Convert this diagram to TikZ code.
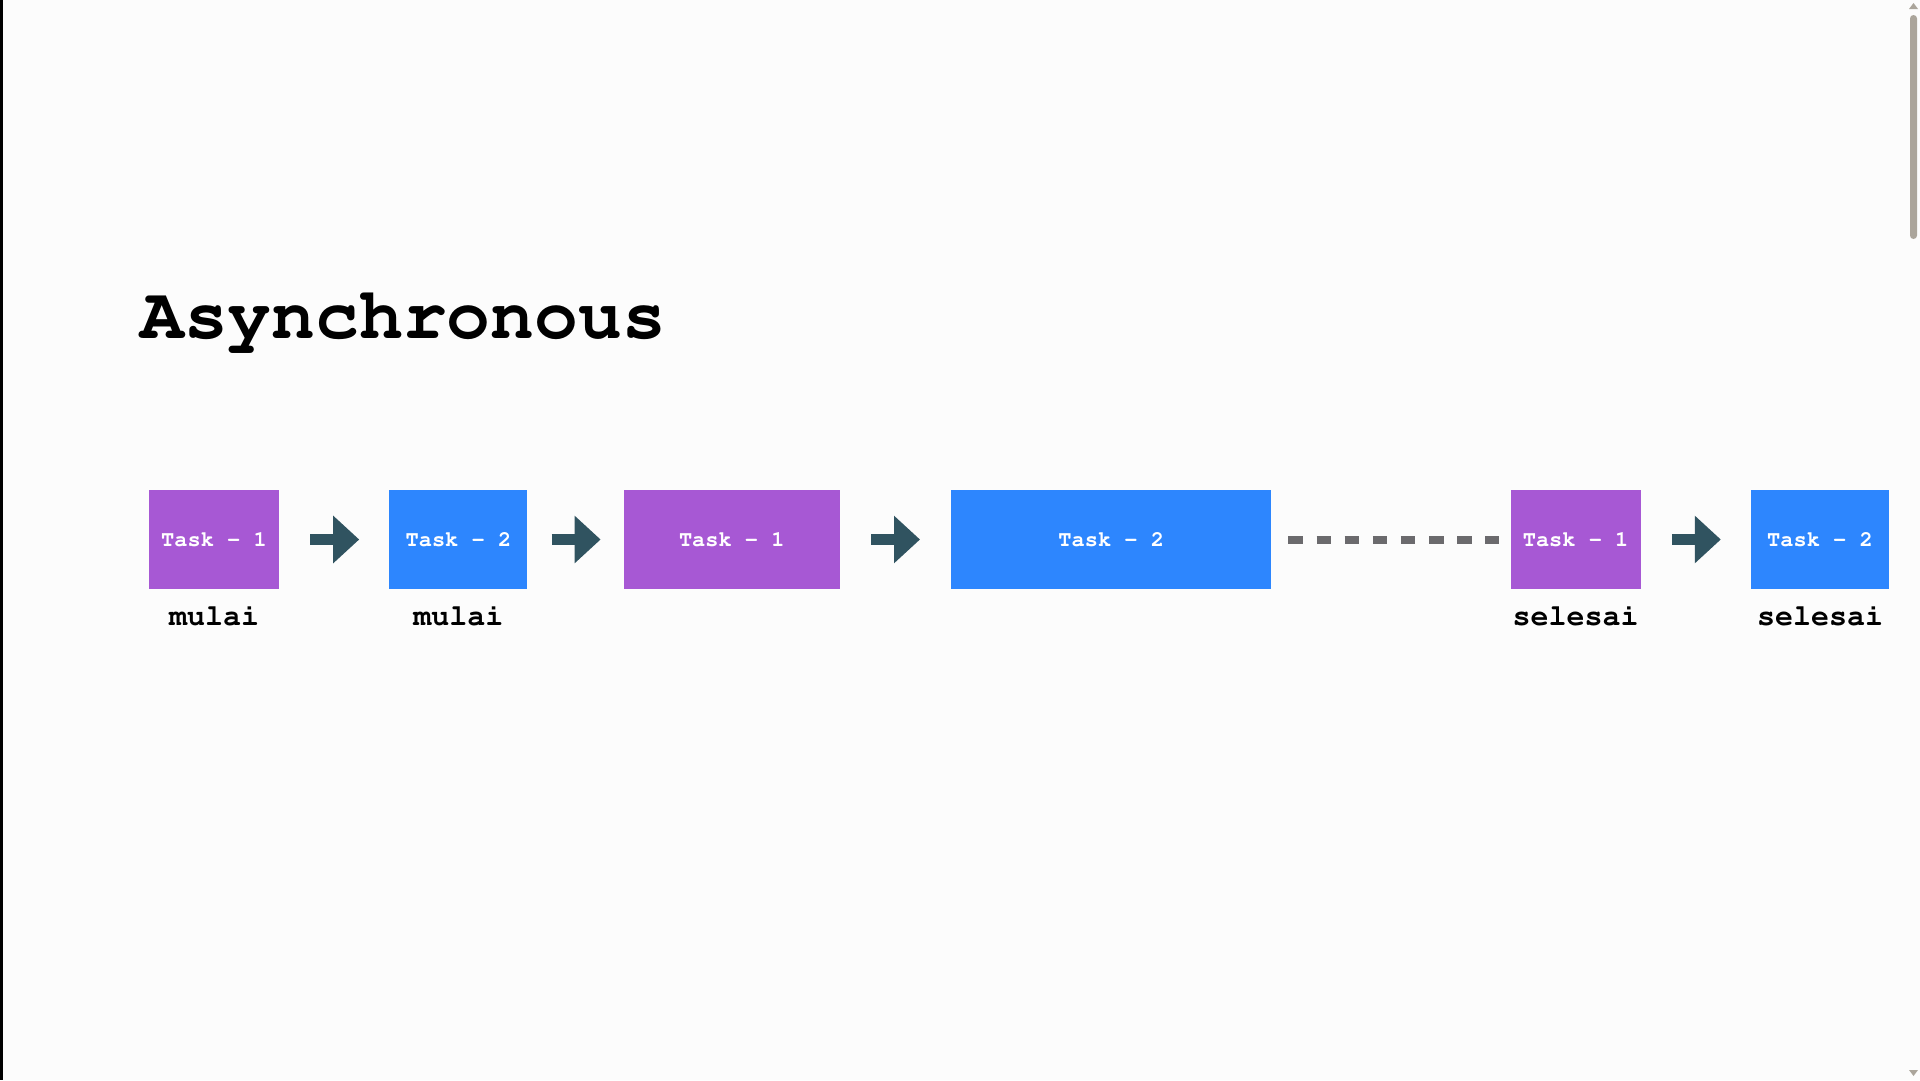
\documentclass[tikz,border=0pt]{standalone}
\usepackage{fontspec}
\newcommand\taskfont{\fontencoding{T1}\fontfamily{pcr}\fontseries{b}\selectfont}
\usetikzlibrary{positioning, arrows.meta}
\definecolor{taskpurple}{HTML}{A758D4}
\definecolor{taskblue}{HTML}{2D86FE}
\definecolor{arrowslate}{HTML}{305360}
\definecolor{waitgray}{HTML}{6B6A6D}
\definecolor{scrollgray}{HTML}{ABA59B}
\tikzstyle{taskone} = [rectangle, minimum width=130pt, minimum height=99pt, inner sep=0pt, text centered, fill=taskpurple, text=white, font=\taskfont\fontsize{22pt}{26pt}\selectfont]
\tikzstyle{tasktwo} = [taskone, fill=taskblue, minimum width=138pt]
\tikzstyle{stage} = [inner sep=0pt, font=\taskfont\fontsize{30pt}{36pt}\selectfont]
\tikzstyle{flowarrow} = [arrowslate, line width=11pt, -{Triangle[width=46pt, length=26pt]}]
\tikzstyle{waitline} = [waitgray, line width=8pt, dash pattern=on 14.5pt off 13.64pt]

\begin{document}
\begin{tikzpicture}[x=1pt, y=-1pt]

% screen
\useasboundingbox (0,0) rectangle (1920,1080);
\fill[white!99!black] (0,0) rectangle (1920,1080);
\fill[black] (0,0) rectangle (2.5,1080);
\fill[scrollgray, rounded corners=3.5pt] (1910,15) rectangle (1917,239);
\fill[scrollgray] (1909,9) -- (1918,9) -- (1913.5,3) -- cycle;
\fill[scrollgray] (1909,1070) -- (1918,1070) -- (1913.5,1076) -- cycle;

\node (title) [anchor=base west, inner sep=0pt, font=\taskfont\fontsize{73pt}{80pt}\selectfont] at (140,338) {Asynchronous};

\node (task1a) [taskone] at (214,539.5) {Task \textendash{} 1};
\node (task2a) [tasktwo, right=110pt of task1a] {Task \textendash{} 2};
\node (task1b) [taskone, right=96pt of task2a, minimum width=216pt] {Task \textendash{} 1};
\node (task2b) [tasktwo, right=111pt of task1b, minimum width=320pt] {Task \textendash{} 2};
\node (task1c) [taskone, right=239pt of task2b] {Task \textendash{} 1};
\node (task2c) [tasktwo, right=110pt of task1c] {Task \textendash{} 2};

\node (mulai1) [stage, below=16pt of task1a] {mulai};
\node (mulai2) [stage, below=16pt of task2a] {mulai};
\node (selesai1) [stage, below=16pt of task1c] {selesai};
\node (selesai2) [stage, below=16pt of task2c] {selesai};

\draw [flowarrow, shorten <=31pt, shorten >=30pt] (task1a) -- (task2a);
\draw [flowarrow, shorten <=24pt, shorten >=23pt] (task2a) -- (task1b);
\draw [flowarrow, shorten <=31pt, shorten >=31pt] (task1b) -- (task2b);
\draw [waitline, shorten <=17pt, shorten >=11pt] (task2b) -- (task1c);
\draw [flowarrow, shorten <=31pt, shorten >=30pt] (task1c) -- (task2c);

\end{tikzpicture}
\end{document}
